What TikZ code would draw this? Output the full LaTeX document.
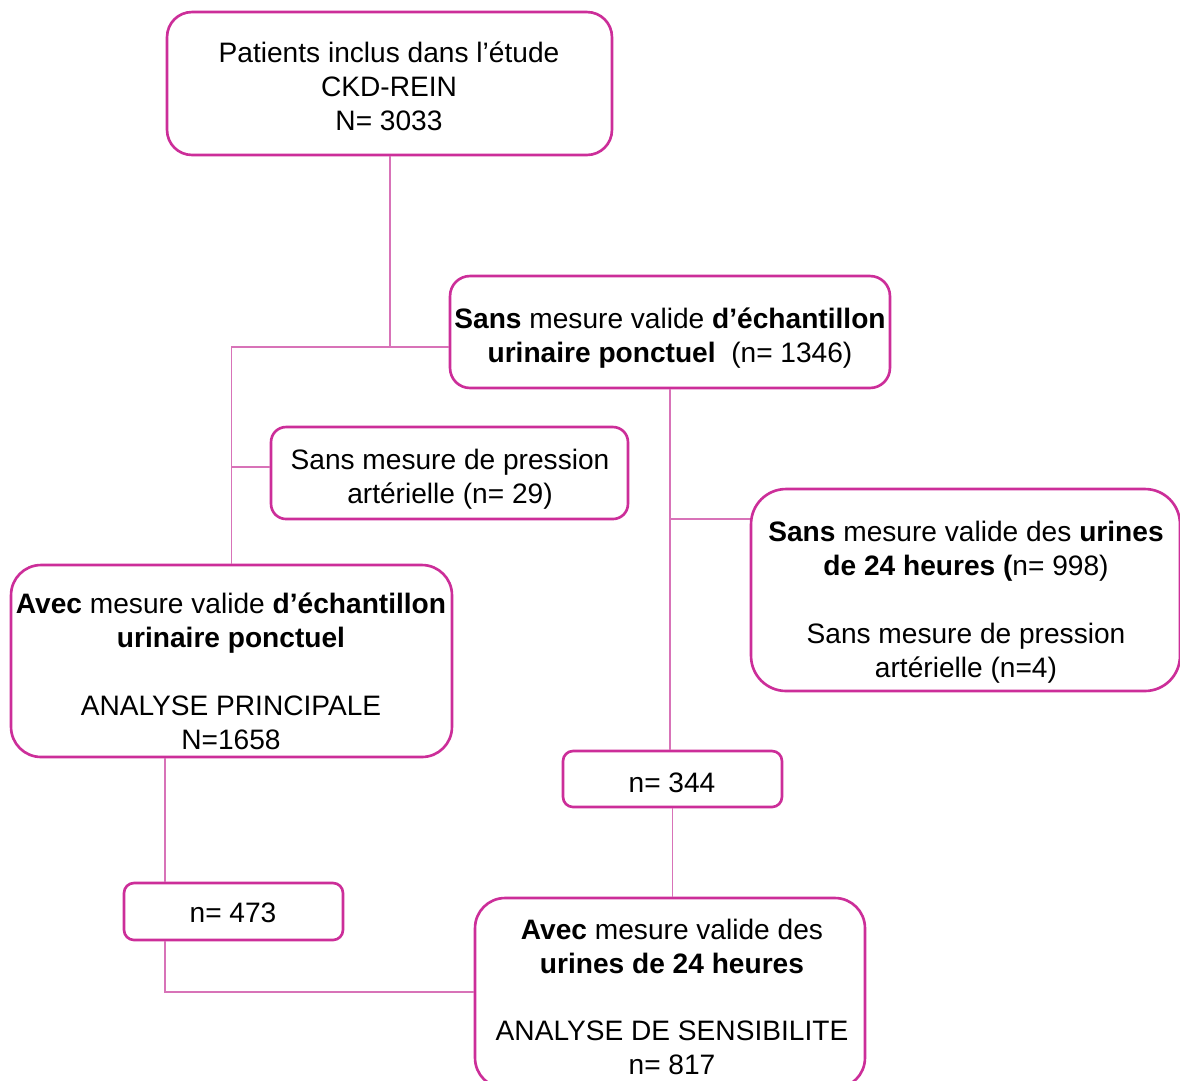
\documentclass[tikz,border=0pt]{standalone}
\usepackage{fontspec}
\setmainfont{Liberation Sans}
\definecolor{boxpink}{HTML}{CC2E99}
\definecolor{linepink}{HTML}{D873B8}
\tikzset{
  box/.style={draw=boxpink, line width=1.5pt, fill=none, inner sep=0pt},
  txt/.style={align=center, inner sep=0pt, font=\fontsize{16}{19.3}\selectfont, text=black},
  conn/.style={draw=linepink, line width=0.8pt}
}
\begin{document}
\begin{tikzpicture}[x=0.02cm,y=-0.02cm]
\clip (0,0) rectangle (1180,1080);
\fill[white] (0,0) rectangle (1180,1080);

% boxes
\node[box, rounded corners=0.5cm, minimum width=8.9cm, minimum height=2.86cm] (b1) at (389.5,83.5) {};
\node[box, rounded corners=0.4cm, minimum width=8.8cm, minimum height=2.24cm] (b2) at (670,332) {};
\node[box, rounded corners=0.3cm, minimum width=7.14cm, minimum height=1.84cm] (b3) at (449.5,473) {};
\node[box, rounded corners=0.6cm, minimum width=8.82cm, minimum height=3.84cm] (b4) at (231.5,661) {};
\node[box, rounded corners=0.7cm, minimum width=8.58cm, minimum height=4.04cm] (b5) at (965.5,590) {};
\node[box, rounded corners=0.2cm, minimum width=4.38cm, minimum height=1.12cm] (b6) at (672.5,779) {};
\node[box, rounded corners=0.2cm, minimum width=4.38cm, minimum height=1.14cm] (b7) at (233.5,911.5) {};
\node[box, rounded corners=0.6cm, minimum width=7.8cm, minimum height=3.8cm] (b8) at (670,993) {};

% texts
\node[txt] (t1) at (389,86) {Patients inclus dans l’étude\\CKD-REIN\\N= 3033};
\node[txt] (t2) at (670,338) {\textbf{Sans} mesure valide \textbf{d’échantillon}\\\textbf{urinaire ponctuel}\ \ (n= 1346)};
\node[txt] (t3) at (450,479) {Sans mesure de pression\\artérielle (n= 29)};
\node[txt] (t4) at (231,671) {\textbf{Avec} mesure valide \textbf{d’échantillon}\\\textbf{urinaire ponctuel}\\[19.3pt]ANALYSE PRINCIPALE\\N=1658};
\node[txt] (t5) at (966,602) {\textbf{Sans} mesure valide des \textbf{urines}\\\textbf{de 24 heures (}n= 998)\\[19.3pt]Sans mesure de pression\\artérielle (n=4)};
\node[txt] (t6) at (672,783) {n= 344};
\node[txt] (t7) at (233,913) {n= 473};
\node[txt] (t8) at (672,997) {\textbf{Avec} mesure valide des\\\textbf{urines de 24 heures}\\[19.3pt]ANALYSE DE SENSIBILITE\\n= 817};

% connectors
\coordinate (j1) at (390,347);
\coordinate (c3) at (232,467);
\coordinate (c5) at (671,519);
\coordinate (c7) at (165,992);

\draw[conn] (b1.south -| j1) -- (j1) -- (j1 -| b2.west);
\draw[conn] (j1) -| (b4.north);
\draw[conn] (c3) -- (c3 -| b3.west);
\draw[conn] (b2.south) -- (b2.south |- b6.north);
\draw[conn] (c5) -- (c5 -| b5.west);
\draw[conn] (b6.south) -- (b6.south |- b8.north);
\draw[conn] (b4.south -| c7) -- (b7.north -| c7);
\draw[conn] (b7.south -| c7) -- (c7) -- (c7 -| b8.west);
\end{tikzpicture}
\end{document}
